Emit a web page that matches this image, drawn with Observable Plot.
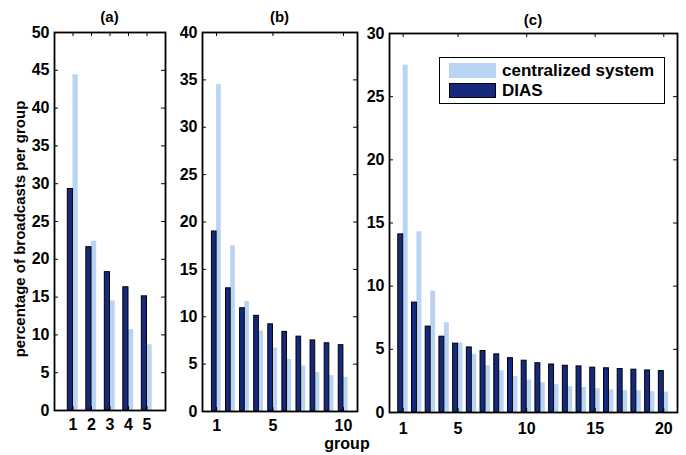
<!DOCTYPE html>
<html><head><meta charset="utf-8">
<script src="https://cdn.jsdelivr.net/npm/d3@7"></script>
<script src="https://cdn.jsdelivr.net/npm/@observablehq/plot@0.6"></script>
<style>
body{margin:0;background:#fff;}
#wrap{position:relative;width:686px;height:455px;overflow:hidden;font-family:"Liberation Sans",Arial,sans-serif;font-weight:bold;color:#000;}
#wrap svg{position:absolute;left:0;top:0;background:transparent;}
.lbl{position:absolute;white-space:nowrap;line-height:1;}
</style></head><body><div id="wrap"></div>
<script>
// ---- data ----
const seriesNames = ["centralized system", "DIAS"];
const titles = ["(a)", "(b)", "(c)"];
const yLabel = "percentage of broadcasts per group";
const xLabel = "group";

const groupsA = [1, 2, 3, 4, 5];
const diasA = [29.3, 21.6, 18.3, 16.3, 15.1];
const centA = [44.4, 22.4, 14.5, 10.7, 8.7];
const yTicksA = [0, 5, 10, 15, 20, 25, 30, 35, 40, 45, 50];
const xTicksA = [1, 2, 3, 4, 5];

const groupsB = [1, 2, 3, 4, 5, 6, 7, 8, 9, 10];
const diasB = [19.0, 13.0, 10.9, 10.1, 9.2, 8.4, 7.9, 7.5, 7.2, 7.0];
const centB = [34.5, 17.5, 11.6, 8.5, 6.7, 5.5, 4.8, 4.1, 3.8, 3.6];
const yTicksB = [0, 5, 10, 15, 20, 25, 30, 35, 40];
const xTicksB = [1, 5, 10];

const groupsC = [1, 2, 3, 4, 5, 6, 7, 8, 9, 10, 11, 12, 13, 14, 15, 16, 17, 18, 19, 20];
const diasC = [14.1, 8.7, 6.8, 6.0, 5.45, 5.15, 4.87, 4.6, 4.3, 4.1, 3.9, 3.8, 3.7, 3.65, 3.55, 3.5, 3.44, 3.39, 3.33, 3.28];
const centC = [27.5, 14.3, 9.6, 7.1, 5.5, 4.6, 3.7, 3.3, 2.86, 2.57, 2.35, 2.2, 2.05, 1.98, 1.88, 1.8, 1.73, 1.72, 1.65, 1.62];
const yTicksC = [0, 5, 10, 15, 20, 25, 30];
const xTicksC = [1, 5, 10, 15, 20];

const LIGHT = "#b9d4f2";
const DARK = "#15297f";
const W = 686, H = 455;
const wrap = document.getElementById("wrap");

function panel({groups, dias, cent, yMax, yTicks, xTicks, left, right, top, bottom, barW, xPad}) {
  const fw = right - left, fh = bottom - top;
  const rows = groups.map((g, i) => ({g, dias: dias[i], cent: cent[i]}));
  const svg = Plot.plot({
    width: W, height: H,
    marginLeft: left, marginRight: W - right, marginTop: top, marginBottom: H - bottom,
    x: {domain: [0, groups.length + 1], axis: null},
    y: {domain: [0, yMax], axis: null},
    style: {background: "transparent", fontFamily: "'Liberation Sans', Arial, sans-serif", fontWeight: "bold", fontSize: "16px", color: "black"},
    marks: [
      Plot.rect(rows, {x1: d => d.g, x2: d => d.g + barW, y1: 0, y2: "cent", fill: LIGHT}),
      Plot.rect(rows, {x1: d => d.g - barW, x2: d => d.g, y1: 0, y2: "dias", fill: DARK, stroke: "black", strokeWidth: 1}),
      Plot.tickX(xTicks, {x: d => d, insetTop: fh - 4, stroke: "black"}),
      Plot.tickX(xTicks, {x: d => d, insetBottom: fh - 4, stroke: "black"}),
      Plot.tickY(yTicks, {y: d => d, insetRight: fw - 4, stroke: "black"}),
      Plot.tickY(yTicks, {y: d => d, insetLeft: fw - 4, stroke: "black"}),
      Plot.axisX(xTicks, {anchor: "bottom", tickSize: 0, tickPadding: xPad, label: null, tickFormat: d => String(d)}),
      Plot.axisY(yTicks, {anchor: "left", tickSize: 0, tickPadding: 5, label: null, tickFormat: d => String(d)}),
      Plot.frame({stroke: "black", strokeWidth: 1.8})
    ]
  });
  wrap.appendChild(svg);
}

panel({groups: groupsA, dias: diasA, cent: centA, yMax: 50, yTicks: yTicksA, xTicks: xTicksA,
  left: 54, right: 165, top: 32, bottom: 410, barW: 0.28, xPad: 8});
panel({groups: groupsB, dias: diasB, cent: centB, yMax: 40, yTicks: yTicksB, xTicks: xTicksB,
  left: 202, right: 357, top: 32, bottom: 411, barW: 0.33, xPad: 8});
panel({groups: groupsC, dias: diasC, cent: centC, yMax: 30, yTicks: yTicksC, xTicks: xTicksC,
  left: 389, right: 677, top: 33, bottom: 412, barW: 0.36, xPad: 10});

function label(text, x, y, size, extra = "") {
  const d = document.createElement("div");
  d.className = "lbl";
  d.textContent = text;
  d.style.left = x + "px";
  d.style.top = y + "px";
  d.style.fontSize = size + "px";
  d.style.transform = "translate(-50%,-50%)" + extra;
  wrap.appendChild(d);
  return d;
}
label(titles[0], 109.5, 16, 15);
label(titles[1], 279.5, 16, 15);
label(titles[2], 533, 19, 15);
label(yLabel, 18.5, 229, 15, " rotate(-90deg)");
label(xLabel, 347, 444, 16);

// legend
const lg = document.createElement("div");
lg.style.cssText = "position:absolute;left:439px;top:57px;width:224px;height:45px;border:1.6px solid #000;background:#fff;";
wrap.appendChild(lg);
const items = [{name: seriesNames[0], color: LIGHT, stroke: "none", top: 5}, {name: seriesNames[1], color: DARK, stroke: "1px solid #000", top: 25}];
for (const it of items) {
  const sw = document.createElement("div");
  sw.style.cssText = `position:absolute;left:9px;top:${it.top}px;width:47px;height:15px;background:${it.color};box-sizing:border-box;border:${it.stroke};`;
  lg.appendChild(sw);
  const t = document.createElement("div");
  t.style.cssText = `position:absolute;left:62px;top:${it.top - 2}px;font-size:17px;line-height:19px;white-space:nowrap;`;
  t.textContent = it.name;
  lg.appendChild(t);
}
</script></body></html>
